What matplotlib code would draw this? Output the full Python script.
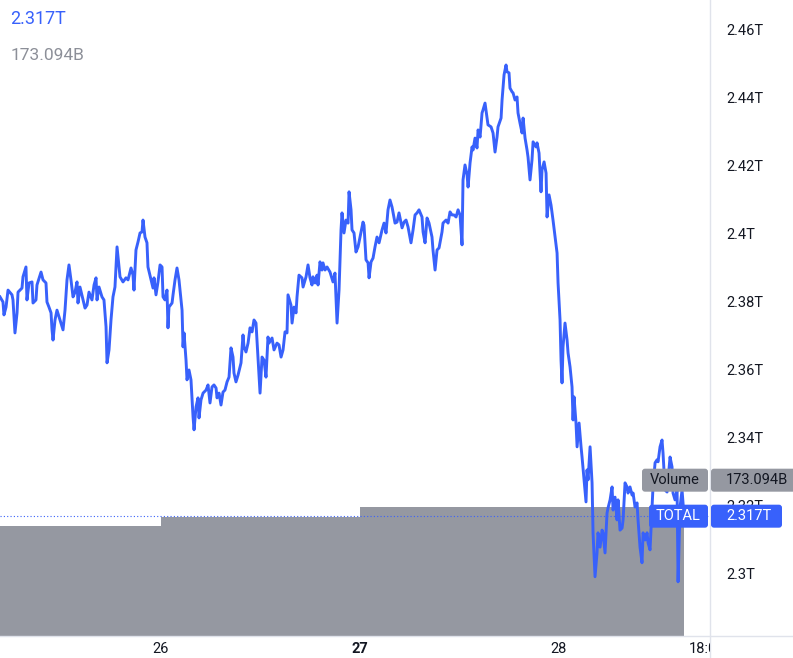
import matplotlib
matplotlib.use('Agg')
import matplotlib.pyplot as plt
from matplotlib.patches import FancyBboxPatch
from matplotlib.lines import Line2D
from matplotlib.transforms import IdentityTransform, Bbox, TransformedBbox, blended_transform_factory

plt.rcParams['font.family'] = ['Roboto', 'DejaVu Sans']

# hours since day 25 00:00, total market cap in trillions
hours = [
    4.53, 4.89, 5.01, 5.26, 5.50, 5.98, 6.10, 6.34, 6.59, 6.71, 7.19, 7.31, 7.67, 7.79, 8.04,
    8.40, 8.52, 8.88, 9.00, 9.49, 9.73, 10.09, 10.21, 10.45, 10.70, 10.82, 10.94, 11.18, 11.42,
    11.90, 12.15, 12.39, 12.63, 12.87, 13.11, 13.36, 13.60, 13.84, 13.96, 14.20, 14.57, 14.81,
    15.05, 15.29, 15.65, 15.90, 16.14, 16.26, 16.50, 16.86, 17.10, 17.35, 17.47, 17.71, 17.95,
    18.19, 18.43, 18.68, 18.92, 19.04, 19.40, 19.76, 20.01, 20.37, 20.61, 20.73, 20.97, 21.22,
    21.46, 21.70, 21.82, 22.06, 22.30, 22.42, 22.79, 23.03, 23.15, 23.39, 23.63, 23.88, 24.12,
    24.24, 24.48, 24.72, 24.84, 24.96, 25.33, 25.45, 25.69, 25.93, 26.17, 26.54, 26.66, 26.78,
    27.02, 27.14, 27.38, 27.62, 27.87, 27.99, 28.23, 28.47, 28.59, 28.83, 29.08, 29.44, 29.68,
    29.92, 30.16, 30.40, 30.65, 30.77, 31.01, 31.25, 31.49, 31.73, 31.98, 32.22, 32.46, 32.70,
    32.82, 33.06, 33.31, 33.67, 33.91, 34.03, 34.27, 34.52, 34.76, 35.00, 35.24, 35.48, 35.72,
    35.97, 36.21, 36.45, 36.69, 36.93, 37.05, 37.42, 37.66, 38.02, 38.26, 38.51, 38.75, 38.99,
    39.23, 39.35, 39.71, 39.84, 40.08, 40.32, 40.44, 40.68, 41.04, 41.17, 41.53, 41.77, 42.01,
    42.25, 42.37, 42.62, 42.86, 42.98, 43.22, 43.46, 43.58, 43.83, 44.07, 44.43, 44.79, 45.03,
    45.28, 45.52, 45.76, 45.88, 46.12, 46.36, 46.61, 46.73, 46.97, 47.09, 47.33, 47.57, 47.82,
    48.18, 48.42, 48.54, 48.78, 49.03, 49.15, 49.39, 49.63, 49.87, 50.11, 50.36, 50.72, 50.96,
    51.20, 51.44, 51.68, 51.93, 52.29, 52.53, 52.77, 53.14, 53.38, 53.62, 53.86, 54.22, 54.47,
    54.71, 54.95, 55.19, 55.55, 55.68, 55.92, 56.16, 56.40, 56.76, 56.88, 57.13, 57.37, 57.61,
    57.97, 58.09, 58.46, 58.70, 58.94, 59.18, 59.42, 59.67, 59.91, 60.15, 60.39, 60.51, 60.75,
    61.00, 61.12, 61.36, 61.60, 61.72, 61.96, 62.20, 62.33, 62.57, 62.81, 62.93, 63.17, 63.41,
    63.53, 63.90, 64.14, 64.38, 64.62, 64.74, 65.11, 65.23, 65.47, 65.71, 65.83, 66.07, 66.19,
    66.44, 66.56, 66.80, 67.04, 67.16, 67.40, 67.65, 67.77, 68.01, 68.25, 68.37, 68.61, 68.85,
    68.98, 69.34, 69.46, 69.70, 69.94, 70.06, 70.31, 70.55, 70.67, 70.91, 71.15, 71.39, 71.64,
    71.88, 72.00, 72.24, 72.36, 72.48, 72.60, 72.84, 73.09, 73.21, 73.45, 73.69, 73.81, 73.93,
    74.17, 74.30, 74.54, 74.78, 74.90, 75.14, 75.38, 75.50, 75.63, 75.87, 76.11, 76.23, 76.47,
    76.71, 76.83, 77.08, 77.32, 77.44, 77.68, 77.92, 78.04, 78.29, 78.53, 78.65, 78.89, 79.13,
    79.25, 79.49, 79.74, 79.86, 80.10, 80.34, 80.46, 80.70, 80.95, 81.07, 81.31, 81.55, 81.67,
    81.91, 82.15, 82.28, 82.52, 82.76, 82.88, 83.12, 83.36, 83.48, 83.73, 83.97, 84.09, 84.33,
    84.57, 84.69, 84.94, 85.18, 85.30, 85.54, 85.78, 85.90, 86.14, 86.39, 86.51, 86.75, 86.99,
    87.11, 87.23,
]
total_cap = [
    2.3815, 2.3800, 2.3762, 2.3785, 2.3835, 2.3821, 2.3806, 2.3709, 2.3768, 2.3829, 2.3841, 2.3874, 2.3903, 2.3806, 2.3856,
    2.3859, 2.3797, 2.3806, 2.3850, 2.3888, 2.3865, 2.3856, 2.3800, 2.3785, 2.3768, 2.3718, 2.3688, 2.3747, 2.3776,
    2.3738, 2.3718, 2.3776, 2.3865, 2.3909, 2.3865, 2.3815, 2.3829, 2.3859, 2.3797, 2.3844, 2.3806, 2.3782,
    2.3791, 2.3829, 2.3806, 2.3850, 2.3871, 2.3806, 2.3844, 2.3815, 2.3806, 2.3727, 2.3621, 2.3659, 2.3747,
    2.3815, 2.3844, 2.3962, 2.3903, 2.3874, 2.3859, 2.3871, 2.3865, 2.3900, 2.3879, 2.3835, 2.3953, 2.3977,
    2.4003, 2.4006, 2.4041, 2.3991, 2.3974, 2.3903, 2.3865, 2.3841, 2.3871, 2.3821, 2.3859, 2.3909, 2.3903,
    2.3815, 2.3806, 2.3835, 2.3724, 2.3785, 2.3797, 2.3821, 2.3865, 2.3900, 2.3865, 2.3776, 2.3668, 2.3709,
    2.3629, 2.3571, 2.3600, 2.3571, 2.3462, 2.3424, 2.3491, 2.3518, 2.3459, 2.3512, 2.3532, 2.3541, 2.3556,
    2.3503, 2.3550, 2.3556, 2.3547, 2.3518, 2.3532, 2.3497, 2.3535, 2.3541, 2.3565, 2.3579, 2.3665, 2.3638,
    2.3591, 2.3565, 2.3585, 2.3621, 2.3703, 2.3668, 2.3653, 2.3679, 2.3724, 2.3712, 2.3747, 2.3738, 2.3638,
    2.3532, 2.3638, 2.3629, 2.3579, 2.3697, 2.3679, 2.3694, 2.3659, 2.3679, 2.3674, 2.3638, 2.3659, 2.3712,
    2.3709, 2.3821, 2.3791, 2.3738, 2.3785, 2.3768, 2.3815, 2.3879, 2.3871, 2.3844, 2.3874, 2.3909, 2.3871,
    2.3850, 2.3874, 2.3856, 2.3879, 2.3850, 2.3918, 2.3894, 2.3915, 2.3894, 2.3903, 2.3888, 2.3859, 2.3885,
    2.3738, 2.3835, 2.4012, 2.4062, 2.4003, 2.4041, 2.4032, 2.4124, 2.4071, 2.4012, 2.4003, 2.3947, 2.3962,
    2.4006, 2.4035, 2.4026, 2.3924, 2.3915, 2.3871, 2.3918, 2.3929, 2.3962, 2.3991, 2.3974, 2.4012, 2.4032,
    2.4003, 2.4071, 2.4100, 2.4079, 2.4032, 2.4035, 2.4062, 2.4018, 2.4035, 2.4041, 2.4021, 2.3974, 2.4012,
    2.4056, 2.4062, 2.4071, 2.4050, 2.4006, 2.3974, 2.4047, 2.4032, 2.3991, 2.3953, 2.3894, 2.3953, 2.3959,
    2.4006, 2.4032, 2.4041, 2.4032, 2.4065, 2.4056, 2.4056, 2.4050, 2.4071, 2.4056, 2.3968, 2.4159, 2.4203,
    2.4174, 2.4138, 2.4209, 2.4256, 2.4247, 2.4282, 2.4253, 2.4306, 2.4285, 2.4356, 2.4365, 2.4385, 2.4341,
    2.4321, 2.4315, 2.4297, 2.4241, 2.4285, 2.4315, 2.4341, 2.4394, 2.4468, 2.4497, 2.4477, 2.4474, 2.4429,
    2.4418, 2.4415, 2.4394, 2.4403, 2.4356, 2.4326, 2.4297, 2.4341, 2.4282, 2.4247, 2.4226, 2.4159, 2.4218,
    2.4271, 2.4256, 2.4268, 2.4238, 2.4124, 2.4188, 2.4212, 2.4179, 2.4050, 2.4115, 2.4085, 2.4041, 2.3991,
    2.3944, 2.3856, 2.3747, 2.3629, 2.3562, 2.3668, 2.3738, 2.3688, 2.3650, 2.3609, 2.3550, 2.3453, 2.3521,
    2.3444, 2.3374, 2.3444, 2.3374, 2.3344, 2.3277, 2.3212, 2.3306, 2.3277, 2.3374, 2.3268, 2.3121, 2.2992,
    2.3062, 2.3121, 2.3079, 2.3129, 2.3121, 2.3062, 2.3179, 2.3194, 2.3218, 2.3256, 2.3188, 2.3226, 2.3159,
    2.3218, 2.3129, 2.3135, 2.3159, 2.3268, 2.3256, 2.3238, 2.3256, 2.3232, 2.3238, 2.3197, 2.3209, 2.3159,
    2.3079, 2.3033, 2.3121, 2.3100, 2.3121, 2.3092, 2.3071, 2.3197, 2.3256, 2.3327, 2.3336, 2.3330, 2.3374,
    2.3394, 2.3356, 2.3247, 2.3241, 2.3277, 2.3344, 2.3315, 2.3238, 2.3218, 2.3247, 2.2977, 2.3197, 2.3247,
    2.3209, 2.3170,
]

# daily volume (billions), bars start at each day
vol_day_start = [0, 24, 48, 72]
vol_values = [147.6, 159.7, 172.8, 173.094]

last_price = 2.317
last_volume = 173.094

price_ticks = [2.30, 2.32, 2.34, 2.36, 2.38, 2.40, 2.42, 2.44, 2.46]
day_ticks = [24, 48, 72]
day_labels = ['26', '27', '28']
time_tick = 90
time_label = '18:00'

BLUE = '#3861FB'
GRAY = '#9598A1'
TEXT = '#131722'
LINE = '#E0E3EB'

W, H = 793, 658
pane_right, pane_bottom = 710, 636

fig = plt.figure(figsize=(W / 100, H / 100), dpi=100)
ax_vol = fig.add_axes([0, (H - pane_bottom) / H, pane_right / W, pane_bottom / H])
ax = ax_vol.twinx()

# volume bars, the last one runs up to the latest point
widths = [b - a for a, b in zip(vol_day_start, vol_day_start[1:])] + [hours[-1] - vol_day_start[-1]]
ax_vol.bar(vol_day_start, vol_values, width=widths, align='edge', color=GRAY, linewidth=0)
ax_vol.set_ylim(0, last_volume * 4.93)

ax.plot(hours, total_cap, color=BLUE, lw=2.1, solid_joinstyle='round')
ax.axhline(last_price, color=BLUE, lw=0.8, ls=(0, (1, 2)))

ax.set_xlim(4.53, 90.37)
ax.set_ylim(2.28176, 2.46882)

for a in (ax, ax_vol):
    for s in a.spines.values():
        s.set_visible(False)

ax_vol.set_yticks([])
ax_vol.set_xticks(day_ticks, day_labels)
ax_vol.tick_params(axis='x', length=0, pad=4.5, labelsize=10.5, labelcolor=TEXT)
ax_vol.get_xticklabels()[1].set_fontweight('bold')

ax.set_yticks(price_ticks, [f'{round(v, 2):g}T' for v in price_ticks])
ax.tick_params(axis='y', length=0, pad=11.5, labelsize=10.5, labelcolor=TEXT)

# clipped time label at the right edge of the pane
t = fig.text(time_tick, 1 - 649 / H, time_label, fontsize=10.5, color=TEXT, ha='center', va='center',
             transform=blended_transform_factory(ax.transData, fig.transFigure))
t.set_clip_box(TransformedBbox(Bbox([[0, 0], [pane_right / W, 1]]), fig.transFigure))
t.set_clip_on(True)

# separators
fig.add_artist(Line2D([pane_right / W] * 2, [0, 1], transform=fig.transFigure, color=LINE, lw=1))
fig.add_artist(Line2D([0, 1], [(H - pane_bottom) / H] * 2, transform=fig.transFigure, color=LINE, lw=1))

# header values
fig.text(10 / W, 1 - 19 / H, f'{last_price}T', color=BLUE, fontsize=13, va='center')
fig.text(11 / W, 1 - 56 / H, f'{last_volume}B', color='#8C8F98', fontsize=12.5, va='center')

# price / volume tags on the scale
y_last = ax.transData.transform((10, last_price))[1]
y_vol = y_last + 36


def tag(x0, x1, yc, h, color, label, tcolor, tx, ha):
    box = FancyBboxPatch((x0, yc - h / 2), x1 - x0, h, boxstyle='round,pad=0,rounding_size=3',
                         transform=IdentityTransform(), fc=color, ec='none', zorder=5)
    fig.add_artist(box)
    fig.text(tx / W, yc / H, label, color=tcolor, fontsize=10.5, ha=ha, va='center', zorder=6)


tag(642, 708, y_vol, 23, GRAY, 'Volume', TEXT, 675, 'center')
tag(711, 800, y_vol, 23, GRAY, f'{last_volume}B', TEXT, 726, 'left')
tag(649, 708, y_last, 23, BLUE, 'TOTAL', 'white', 678.5, 'center')
tag(711, 782, y_last, 23, BLUE, f'{last_price}T', 'white', 726, 'left')

fig.savefig('out.png', dpi=100)
